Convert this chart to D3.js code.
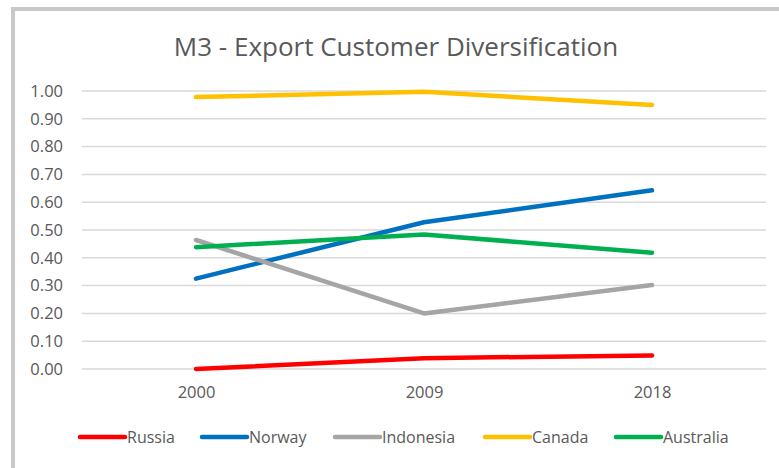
<!DOCTYPE html>
<html>
<head>
<meta charset="utf-8">
<script src="https://cdn.jsdelivr.net/npm/d3@7"></script>
<style>
	body { margin: 0; background: #fff; }
	svg { display: block; font-family: "Open Sans", sans-serif; }
</style>
</head>
<body>
<main></main>
<script>
const years = ["2000", "2009", "2018"];
const yTicks = [0, 0.1, 0.2, 0.3, 0.4, 0.5, 0.6, 0.7, 0.8, 0.9, 1.0];
const seriesNames = ["Russia", "Norway", "Indonesia", "Canada", "Australia"];
const seriesColors = ["#ff0000", "#0070c0", "#a5a5a5", "#ffc000", "#00b050"];
const russia = [0.00, 0.039, 0.049];
const norway = [0.325, 0.528, 0.643];
const indonesia = [0.464, 0.200, 0.302];
const canada = [0.978, 0.997, 0.950];
const australia = [0.438, 0.484, 0.418];

function drawChart() {
	const seriesValues = [russia, norway, indonesia, canada, australia];

	let dimensions = {
		width: 779,
		height: 468,
		margins: {
			top: 91,
			right: 13,
			bottom: 99,
			left: 82,
		},
	};
	dimensions.boundedWidth = dimensions.width - dimensions.margins.left - dimensions.margins.right;
	dimensions.boundedHeight = dimensions.height - dimensions.margins.top - dimensions.margins.bottom;

	const svg = d3.select("main")
		.append("svg")
		.attr("width", dimensions.width)
		.attr("height", dimensions.height);

	// chart area border (runs off the right and bottom edges)
	svg.append("rect")
		.attr("x", 13)
		.attr("y", 9)
		.attr("width", 800)
		.attr("height", 500)
		.attr("fill", "#fff")
		.attr("stroke", "#c8c8c8")
		.attr("stroke-width", 4);

	svg.append("text")
		.attr("x", 396)
		.attr("y", 56)
		.attr("text-anchor", "middle")
		.attr("fill", "#595959")
		.style("font-size", "26px")
		.text("M3 - Export Customer Diversification");

	const graph = svg.append("g")
		.attr("transform", `translate(${dimensions.margins.left},${dimensions.margins.top})`);

	const xScale = d3.scalePoint()
		.domain(years)
		.range([0, dimensions.boundedWidth])
		.padding(0.5);

	const yScale = d3.scaleLinear()
		.domain([0, 1])
		.range([dimensions.boundedHeight, 0]);

	// gridlines
	graph.append("g")
		.selectAll("line")
		.data(yTicks)
		.join("line")
		.attr("x1", 0)
		.attr("x2", dimensions.boundedWidth)
		.attr("y1", d => yScale(d))
		.attr("y2", d => yScale(d))
		.attr("stroke", "#d9d9d9")
		.attr("stroke-width", 1.5);

	const yAxis = graph.append("g")
		.call(d3.axisLeft(yScale).tickValues(yTicks).tickFormat(d3.format(".2f")).tickSize(0).tickPadding(19));
	yAxis.select(".domain").remove();
	yAxis.selectAll("text")
		.attr("fill", "#595959")
		.style("font-size", "16.5px")
		.style("font-family", "Open Sans, sans-serif");

	const xAxis = graph.append("g")
		.attr("transform", `translate(0,${dimensions.boundedHeight})`)
		.call(d3.axisBottom(xScale).tickSize(0).tickPadding(17));
	xAxis.select(".domain").remove();
	xAxis.selectAll("text")
		.attr("fill", "#595959")
		.style("font-size", "16.5px")
		.style("font-family", "Open Sans, sans-serif");

	const lineGenerator = d3.line()
		.x((d, i) => xScale(years[i]))
		.y(d => yScale(d));

	graph.selectAll(".series")
		.data(seriesValues)
		.join("path")
		.attr("class", "series")
		.attr("d", d => lineGenerator(d))
		.attr("fill", "none")
		.attr("stroke", (d, i) => seriesColors[i])
		.attr("stroke-width", 4.5)
		.attr("stroke-linecap", "round")
		.attr("stroke-linejoin", "round");

	// legend
	const legendX = [80, 202, 335, 485, 616];
	const legendY = 437;
	const legend = svg.append("g");
	const items = legend.selectAll("g")
		.data(seriesNames)
		.join("g")
		.attr("transform", (d, i) => `translate(${legendX[i]},${legendY})`);
	items.append("line")
		.attr("x1", 0)
		.attr("x2", 45)
		.attr("stroke", (d, i) => seriesColors[i])
		.attr("stroke-width", 4.5)
		.attr("stroke-linecap", "round");
	items.append("text")
		.attr("x", 47)
		.attr("dy", "0.35em")
		.attr("fill", "#595959")
		.style("font-size", "16px")
		.text(d => d);
}
drawChart();
</script>
</body>
</html>
